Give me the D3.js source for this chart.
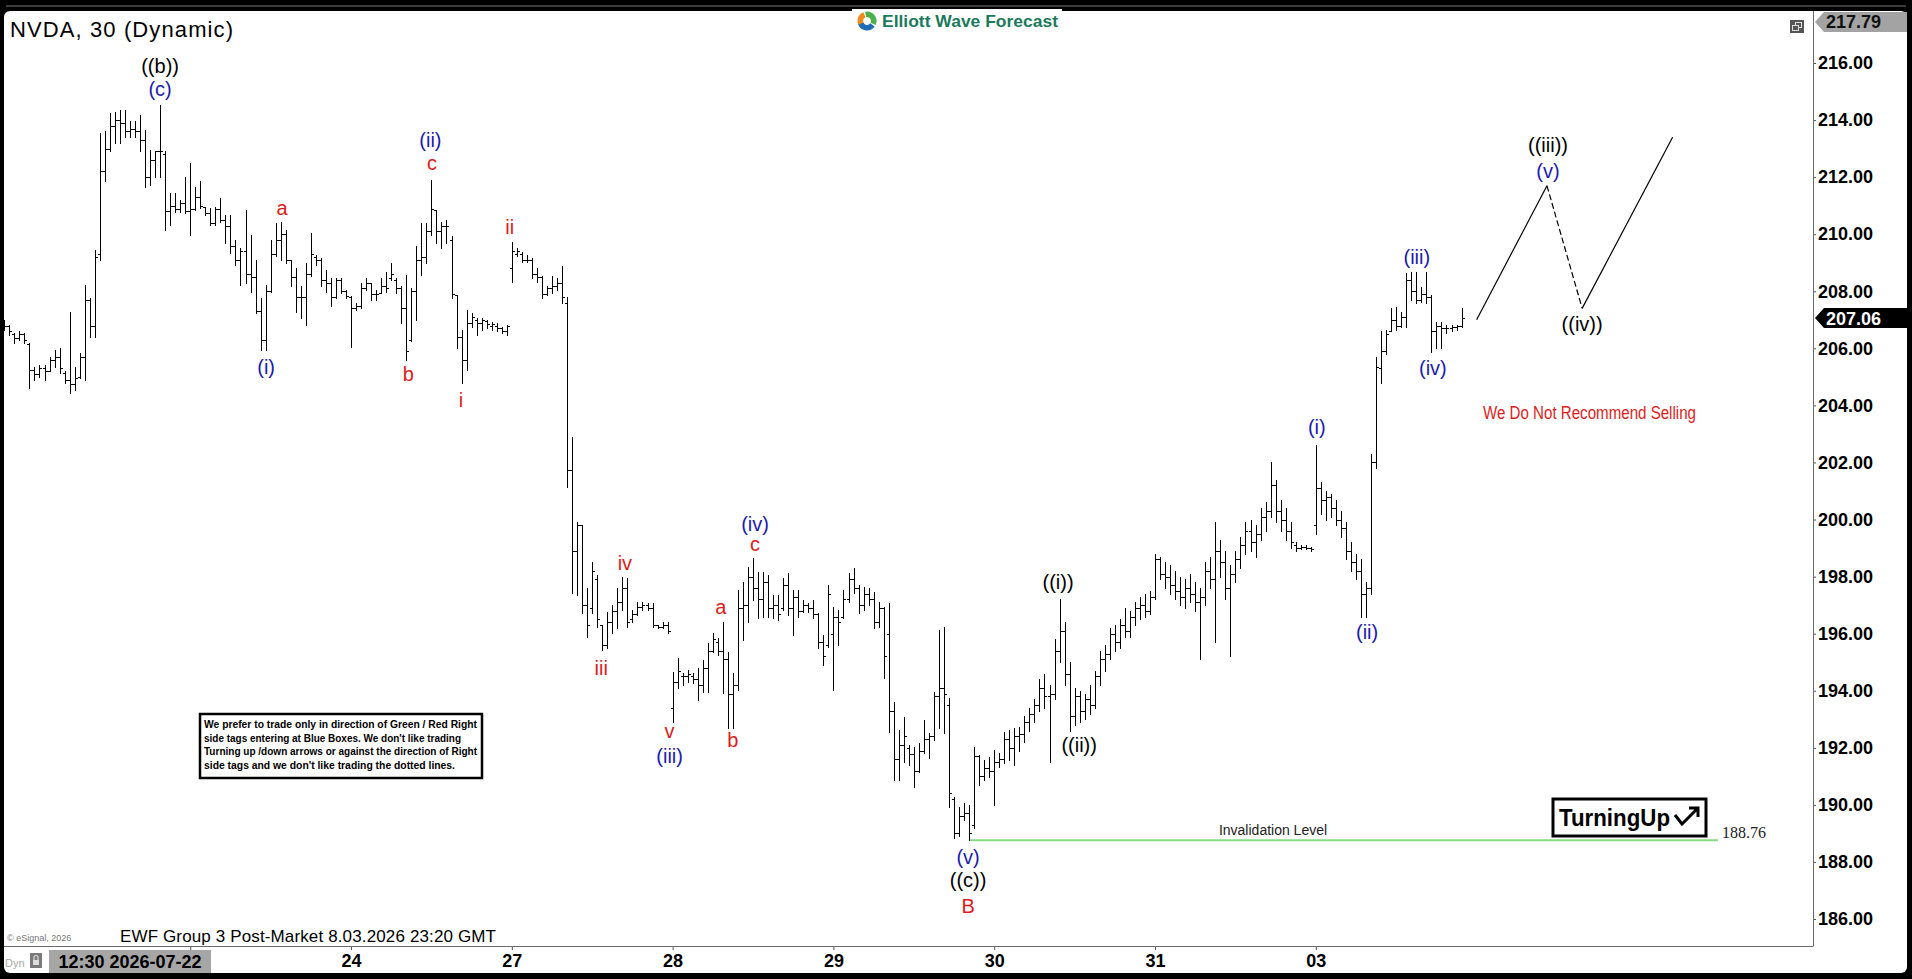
<!DOCTYPE html>
<html><head><meta charset="utf-8">
<script src="https://cdn.jsdelivr.net/npm/d3@7"></script>
<style>body{margin:0;background:#000;overflow:hidden}svg{display:block}</style>
</head><body>
<svg id="c" width="1912" height="979"></svg>
<script>
// ---- OHLC bars [open, high, low, close], one array per session ----
const bars22 = [
[206.95,207.00,206.65,206.80],[206.80,206.82,206.47,206.60],[206.50,206.53,206.18,206.35],[206.35,206.59,206.30,206.50],
[206.50,206.53,206.18,206.30],[206.15,206.18,204.60,205.25],[205.25,205.36,204.90,205.10],[205.10,205.42,205.01,205.30],
[205.30,205.42,204.90,205.20],[205.20,205.71,205.19,205.60],[205.60,205.95,205.36,205.70],[205.70,206.01,205.13,205.30],
[205.15,205.19,204.78,204.90],[204.90,207.29,204.43,204.75],[204.75,205.36,204.55,204.95],[205.00,205.83,204.95,205.70],
[205.70,208.23,204.90,207.70],[207.70,207.76,206.41,206.80],[206.80,209.45,206.41,209.20],[209.30,213.54,209.10,212.20],
[212.20,213.60,211.85,213.00],[213.00,214.24,212.90,213.80],[213.80,214.30,213.19,214.00],[214.00,214.36,213.19,213.90],
[213.90,214.36,213.42,213.60],[213.60,213.95,213.42,213.70],[213.70,213.95,213.42,213.60],[213.60,214.18,212.90,213.30],
[213.30,213.66,211.67,212.00],[212.00,212.96,211.73,212.60],[212.60,212.90,212.02,212.90],[212.90,214.53,212.02,212.90],
[212.80,212.90,210.15,210.80],[210.80,211.44,210.33,211.00],[211.00,211.44,210.79,210.90],[210.90,211.20,210.79,211.10],
[211.10,212.02,210.74,210.80]];
const bars23 = [
[210.80,212.49,209.98,210.90],[210.90,211.67,210.85,211.30],[211.30,211.85,210.91,211.00],[210.95,210.97,210.68,210.75],
[210.75,210.91,210.33,210.40],[210.40,210.97,210.33,210.90],[210.90,211.26,210.44,210.50],[210.50,210.68,209.69,210.30],
[210.30,210.68,209.33,209.60],[209.60,209.80,208.93,209.10],[209.10,209.51,208.23,209.40],[209.40,210.85,208.28,208.60],
[208.60,209.98,207.99,208.50],[208.50,209.10,207.23,207.30],[207.30,207.76,205.95,206.30],[206.30,208.23,205.95,208.00],
[208.00,209.80,207.99,209.30],[209.30,210.39,209.22,209.80],[209.80,210.44,209.10,210.00],[210.00,210.15,208.98,209.10],
[209.10,209.10,208.17,208.50],[208.50,208.81,207.29,207.80],[207.80,208.17,207.06,207.80],[207.80,208.98,206.82,208.60],
[208.60,210.04,208.52,209.30],[209.20,209.28,208.93,209.10],[209.10,209.16,208.17,208.40],[208.40,208.75,207.99,208.30],
[208.30,208.46,207.47,207.80],[207.80,208.46,207.76,208.40],[208.40,208.46,207.93,208.00],[208.00,208.05,207.76,207.85]];
const bars24 = [
[207.80,207.82,206.06,207.40],[207.40,207.58,207.35,207.50],[207.50,208.28,207.41,208.10],[208.10,208.46,208.05,208.30],
[208.28,208.28,207.70,207.90],[207.90,208.05,207.70,207.90],[207.95,208.46,207.93,208.20],[208.20,208.69,207.99,208.10],
[208.45,208.98,208.40,208.60],[208.40,208.46,207.93,208.10],[208.10,208.17,206.88,207.40],[207.40,208.58,205.60,205.90],
[206.30,208.11,206.24,208.00],[208.00,209.57,207.00,209.10],[209.10,210.39,208.58,209.20],[209.20,210.39,208.98,210.10],
[210.10,211.91,209.98,210.90],[210.85,210.85,209.69,210.10],[210.10,210.44,209.51,210.30],[210.30,210.50,209.69,210.30],
[209.80,209.92,207.76,207.90],[207.87,207.87,206.01,206.40],[206.40,206.65,204.78,205.60],[205.60,207.35,205.25,206.90],
[206.90,207.23,206.76,207.10],[207.00,207.06,206.47,206.90],[206.90,207.06,206.65,207.00],[206.95,207.00,206.71,206.85],
[206.80,206.94,206.65,206.85],[206.80,206.88,206.59,206.70],[206.70,206.76,206.53,206.60],[206.60,206.82,206.47,206.80]];
const bars27 = [
[208.80,209.74,208.34,209.40],[209.30,209.51,209.22,209.40],[209.30,209.39,209.04,209.10],[209.10,209.28,209.04,209.10],
[209.10,209.16,208.46,208.60],[208.60,208.81,208.34,208.50],[208.50,208.52,207.76,207.90],[207.90,208.17,207.87,208.10],
[208.10,208.52,207.93,208.20],[208.20,208.46,208.05,208.30],[208.30,208.90,207.60,207.80],[207.60,207.80,201.15,201.74],
[201.74,202.91,197.42,198.90],[198.90,199.93,197.36,199.80],[199.80,199.81,196.71,197.00],[197.00,197.59,195.89,196.30],
[196.90,198.52,196.71,198.20],[197.90,198.06,196.25,196.50],[196.30,196.30,195.43,195.60],[195.60,196.77,195.49,196.40],
[196.40,197.00,196.01,196.80],[196.80,197.59,196.19,197.10],[197.10,198.00,196.83,197.60],[197.60,197.94,196.25,196.40],
[196.50,196.83,196.42,196.70],[196.70,197.12,196.66,196.95],[196.95,197.12,196.83,197.00],[197.00,197.06,196.83,196.90],
[196.90,197.06,196.25,196.30],[196.30,196.30,196.19,196.25],[196.25,196.42,196.19,196.30],[196.30,196.42,196.01,196.10]];
const bars28 = [
[193.40,194.67,192.92,194.30],[194.30,195.14,194.08,194.70],[194.50,194.61,194.20,194.50],[194.50,194.73,194.32,194.60],
[194.50,194.61,194.26,194.40],[194.40,194.79,193.67,194.20],[194.20,195.08,193.97,194.80],[194.80,195.66,193.97,195.40],
[195.40,196.01,195.35,195.80],[195.70,195.85,195.25,195.40],[195.40,196.42,193.91,195.10],[195.10,195.37,192.68,193.90],
[193.90,194.61,192.68,194.20],[194.20,197.53,194.03,196.90],[196.90,197.82,195.78,197.00],[197.00,198.35,196.42,198.00],
[198.00,198.64,197.18,197.60],[197.60,198.17,196.54,197.20],[197.20,198.17,196.60,197.80],[197.80,198.06,196.60,196.90],
[196.90,197.36,196.54,197.00],[197.00,197.36,196.48,196.70],[196.90,197.94,196.83,197.70],[197.70,198.12,196.66,196.90],
[196.90,197.53,195.95,197.30],[197.30,197.53,196.60,196.80],[196.80,197.18,196.77,197.00],[197.00,197.06,196.77,196.90],
[196.90,197.18,196.54,196.70],[196.70,196.71,195.49,195.70],[195.70,195.95,194.90,195.20],[195.60,197.71,195.55,197.40]];
const bars29 = [
[196.00,196.95,194.03,196.60],[196.60,196.83,195.60,196.40],[196.60,197.53,196.54,197.20],[197.20,198.12,197.12,197.90],
[197.90,198.29,197.42,197.60],[197.60,197.71,196.71,197.00],[197.00,197.65,196.83,197.40],[197.40,197.59,197.00,197.20],
[197.20,197.47,196.19,196.40],[196.40,197.12,196.25,196.90],[196.90,196.95,194.43,195.20],[196.00,197.06,192.56,193.30],
[193.30,193.62,190.87,191.60],[191.60,192.62,190.87,192.10],[192.10,193.09,191.51,192.40],[192.00,192.10,191.40,191.80],
[191.80,192.04,190.64,191.20],[191.20,192.16,191.15,191.90],[191.90,192.97,191.81,192.30],[192.30,192.51,191.63,192.40],
[192.40,193.97,192.27,193.80],[193.80,196.13,192.68,194.10],[194.10,196.25,192.51,193.90],[193.50,193.73,189.94,190.40],
[190.20,190.29,188.83,189.00],[189.00,189.94,188.90,189.60],[189.60,190.05,189.47,189.70],[189.70,189.99,188.76,189.00],
[189.30,192.04,189.18,191.70],[191.70,191.75,190.70,191.00],[191.00,191.57,190.87,191.30],[191.30,191.69,190.99,191.20]];
const bars30 = [
[191.20,191.92,189.99,191.50],[191.50,191.81,191.34,191.60],[191.60,192.56,191.46,192.30],[192.30,192.62,191.57,192.00],
[192.00,192.68,191.40,192.40],[192.40,192.74,191.90,192.50],[192.50,193.10,192.20,192.90],[192.90,193.40,192.60,193.20],
[193.20,193.70,192.90,193.50],[193.50,194.40,193.30,194.10],[194.10,194.60,193.40,193.80],[193.80,194.20,191.50,193.90],
[193.90,195.80,193.70,195.40],[195.40,197.20,195.00,196.10],[196.10,196.40,194.20,194.60],[194.60,195.00,192.60,193.10],
[193.10,194.10,192.80,193.80],[193.80,194.00,192.90,193.30],[193.30,193.90,193.00,193.70],[193.70,194.20,193.20,193.50],
[193.50,194.70,193.40,194.50],[194.50,195.40,194.20,195.10],[195.10,195.60,194.70,195.30],[195.30,196.20,195.10,196.00],
[196.00,196.30,195.40,195.70],[195.70,196.50,195.50,196.30],[196.30,196.90,195.90,196.10],[196.10,196.80,195.90,196.60],
[196.60,197.10,196.30,196.90],[196.90,197.30,196.50,197.00],[197.00,197.40,196.60,196.80],[196.80,197.50,196.70,197.30]];
const bars31 = [
[197.30,198.80,197.20,198.60],[198.60,198.70,197.90,198.10],[198.10,198.50,197.60,198.00],[198.00,198.40,197.40,197.70],
[197.70,198.20,197.20,197.50],[197.50,198.00,197.00,197.30],[197.30,197.90,196.90,197.60],[197.60,198.10,197.10,197.40],
[197.40,197.80,196.80,197.10],[197.10,197.60,195.10,197.30],[197.30,198.50,197.00,198.20],[198.20,198.70,197.60,197.90],
[197.90,199.90,195.70,198.90],[198.90,199.30,198.00,198.50],[198.50,198.90,197.20,197.60],[197.60,198.40,195.20,198.10],
[198.10,198.90,197.80,198.60],[198.60,199.40,198.30,199.10],[199.10,199.90,198.80,199.60],[199.60,200.00,198.90,199.20],
[199.20,199.80,198.70,199.50],[199.50,200.40,199.30,200.10],[200.10,200.60,199.60,200.30],[200.30,202.00,200.10,201.20],
[201.20,201.40,199.90,200.30],[200.30,200.70,199.60,200.00],[200.00,200.40,199.30,199.60],[199.60,199.90,199.00,199.20],
[199.10,199.20,198.90,199.00],[199.00,199.10,198.95,199.05],[199.05,199.10,198.95,199.00],[199.00,199.05,198.90,198.95]];
const bars03 = [
[199.80,202.60,199.50,201.10],[201.10,201.30,200.20,200.70],[200.70,201.00,200.00,200.80],[200.80,200.90,200.10,200.40],
[200.40,200.70,199.80,200.00],[200.00,200.30,199.40,199.70],[199.70,199.90,198.60,198.90],[198.90,199.20,198.20,198.50],
[198.50,198.80,197.90,198.20],[198.20,198.60,196.60,197.40],[197.40,197.80,196.60,197.60],[197.60,202.30,197.40,202.00],
[202.00,205.71,201.80,205.36],[205.30,206.59,204.77,205.90],[205.90,206.64,205.80,206.50],[206.60,207.40,206.59,207.00],
[207.00,207.46,206.64,206.80],[206.80,207.29,206.76,207.10],[207.10,208.63,206.76,208.40],[208.40,208.69,207.70,208.00],
[208.00,208.69,207.58,207.70],[207.70,208.16,207.64,207.90],[207.90,208.69,207.58,207.80],[207.80,207.87,205.88,206.60],
[206.60,206.94,206.00,206.80],[206.80,206.94,206.00,206.70],[206.70,206.82,206.53,206.70],[206.70,206.82,206.59,206.75],
[206.75,206.82,206.64,206.80],[206.80,207.40,206.76,207.06]];

// ---- axis / tick data ----
const priceTicks = [186,188,190,192,194,196,198,200,202,204,206,208,210,212,214,216];
const dayLabels = ["23","24","27","28","29","30","31","03"];
const dayStartBar = [37,69,101,133,165,197,229,261];
const lastPrice = 207.06, topPrice = 217.79, invalidation = 188.76;

// ---- Elliott wave labels: text, colour, bar index, price ----
const waveText  = ["((b))","(c)","(i)","a","(ii)","c","b","i","ii","iii","iv","v","(iii)","a","b","(iv)","c","(v)","((c))","B","((i))","((ii))","(i)","(ii)","(iii)","(iv)","((iii))","(v)","((iv))"];
const waveColor = ["k","u","u","r","u","r","r","r","r","r","r","r","u","r","r","u","r","u","k","r","k","k","u","u","u","u","k","u","k"];
const waveBar   = [31,31,52.1,55.3,84.8,85.1,80.4,90.9,100.6,118.8,123.5,132.4,132.4,142.6,145,149.4,149.4,191.8,191.8,191.8,209.7,213.9,261.2,271.2,281.1,284.3,307.2,307.2,314];
const wavePrice = [215.90,215.10,205.35,210.92,213.30,212.50,205.11,204.19,210.26,194.80,198.48,192.59,191.71,196.94,192.27,199.84,199.14,188.17,187.37,186.46,197.81,192.10,203.25,196.06,209.20,205.31,213.13,212.22,206.86];

// ---- projected path ----
const projBar = [293, 307, 314, 332];
const projPrice = [207.0, 211.7, 207.4, 213.4];

const noteLines = ["We prefer to trade only in direction of Green / Red Right",
 "side tags entering at Blue Boxes. We don't like trading",
 "Turning up /down arrows or against the direction of Right",
 "side tags and we don't like trading the dotted lines."];

// ================= drawing =================
const FONT = "'Liberation Sans', Arial, sans-serif";
const svg = d3.select("#c");
const x = d3.scaleLinear().domain([0, 300]).range([4.3, 4.3 + 300 * 5.025]);
const y = d3.scaleLinear().domain([186, 216]).range([919, 63]);
const colors = {k:"#000000", u:"#1c1cb0", r:"#e01b1b"};

// frame
svg.append("rect").attr("width",1912).attr("height",979).attr("fill","#000");
svg.append("rect").attr("x",6).attr("y",5).attr("width",1900).attr("height",2).attr("fill","#3c3c3c");
svg.append("rect").attr("x",4).attr("y",11).attr("width",1903).attr("height",962).attr("rx",6).attr("fill","#fff");

const bars = [].concat(bars22, bars23, bars24, bars27, bars28, bars29, bars30, bars31, bars03);

// invalidation line
svg.append("line").attr("x1", Math.round(x(192))).attr("x2", 1718)
  .attr("y1", y(invalidation)).attr("y2", y(invalidation))
  .attr("stroke", "#86dc86").attr("stroke-width", 2);
svg.append("text").attr("x", 1722).attr("y", y(invalidation) - 2).attr("font-family","'Liberation Serif', 'Times New Roman', serif")
  .attr("font-size", 16).attr("fill","#222").text(invalidation.toFixed(2));
svg.append("text").attr("x", 1273).attr("y", 835).attr("text-anchor","middle").attr("font-family",FONT)
  .attr("font-size", 14).attr("fill","#222").text("Invalidation Level");

// bars
svg.append("g").selectAll("path").data(bars).join("path")
  .attr("d", (d, i) => {
    const cx = Math.round(x(i)) + 0.5;
    const yo = Math.round(y(d[0])) + 0.5, yc = Math.round(y(d[3])) + 0.5;
    return `M${cx},${Math.round(y(d[1]))}V${Math.round(y(d[2]))+1}M${cx-2.5},${yo}H${cx}M${cx},${yc}H${cx+2.5}`;
  })
  .attr("stroke","#000").attr("stroke-width",1).attr("fill","none").attr("shape-rendering","crispEdges");

// projection
const proj = projBar.map((b, k) => [x(b), y(projPrice[k])]);
[0,1,2].forEach(k => {
  svg.append("line").attr("x1",proj[k][0]).attr("y1",proj[k][1]).attr("x2",proj[k+1][0]).attr("y2",proj[k+1][1])
    .attr("stroke","#000").attr("stroke-width",1.2).attr("stroke-dasharray", k===1 ? "6,3" : null);
});

// wave labels
svg.append("g").selectAll("text").data(waveText).join("text")
  .attr("x",(d,k)=>x(waveBar[k])).attr("y",(d,k)=>y(wavePrice[k]))
  .attr("dy","0.35em").attr("text-anchor","middle").attr("font-family",FONT).attr("font-size",20)
  .attr("fill",(d,k)=>colors[waveColor[k]]).text(d=>d);

// right axis
const yAxis = d3.axisRight(y).tickValues(priceTicks).tickFormat(d3.format(".2f")).tickSize(3).tickPadding(2);
const gy = svg.append("g").attr("transform","translate(1813,0)").call(yAxis);
gy.select(".domain").remove();
gy.selectAll("line").attr("stroke","#555");
gy.selectAll("text").attr("font-family",FONT).attr("font-size",18).attr("font-weight","bold").attr("fill","#000");
svg.append("line").attr("x1",1813.5).attr("x2",1813.5).attr("y1",11).attr("y2",946).attr("stroke","#6a6a6a");

// bottom axis (first day label sits under the date box, so only its tick shows)
const xAxis = d3.axisBottom(x).tickValues(dayStartBar).tickFormat((d,k)=>dayLabels[k]).tickSize(4).tickPadding(4);
const gx = svg.append("g").attr("transform","translate(0,946)").call(xAxis);
gx.select(".domain").remove();
gx.selectAll("line").attr("stroke","#555");
gx.selectAll("text").attr("font-family",FONT).attr("font-size",18).attr("font-weight","bold").attr("fill","#000");
gx.selectAll(".tick").filter((d,k)=>k===0).select("text").remove();
svg.append("line").attr("x1",4).attr("x2",1813.5).attr("y1",946.5).attr("y2",946.5).attr("stroke","#6a6a6a");

// left date box
svg.append("rect").attr("x",49).attr("y",950).attr("width",162).attr("height",23).attr("fill","#a6a6a6");
svg.append("text").attr("x",130).attr("y",968).attr("text-anchor","middle").attr("font-family",FONT)
  .attr("font-size",18).attr("font-weight","bold").attr("fill","#000").text("12:30 2026-07-22");
svg.append("text").attr("x",5).attr("y",967).attr("font-family",FONT).attr("font-size",11).attr("fill","#aaa").text("Dyn");
svg.append("rect").attr("x",30).attr("y",953).attr("width",12).attr("height",15).attr("fill","#7a7a7a");
svg.append("rect").attr("x",33).attr("y",960).attr("width",6).attr("height",5).attr("fill","#ddd");
svg.append("path").attr("d","M34,960V957.5a2,2 0 0 1 4,0V960").attr("fill","none").attr("stroke","#ddd").attr("stroke-width",1.2);

// price flags
function flag(price, yc, bg, fg) {
  svg.append("path").attr("d",`M1815,${yc}L1824,${yc-10}H1907V${yc+10}H1824Z`).attr("fill",bg);
  svg.append("text").attr("x",1826).attr("y",yc).attr("dy","0.36em").attr("font-family",FONT).attr("font-size",18)
    .attr("font-weight","bold").attr("fill",fg).text(price.toFixed(2));
}
flag(topPrice, 22, "#a3a3a3", "#111");
flag(lastPrice, y(lastPrice), "#000", "#fff");

// small window icon
svg.append("rect").attr("x",1790).attr("y",20).attr("width",14).attr("height",13).attr("fill","#555");
svg.append("rect").attr("x",1795.5).attr("y",22.5).attr("width",6).attr("height",5).attr("fill","none").attr("stroke","#ddd");
svg.append("rect").attr("x",1792.5).attr("y",25.5).attr("width",6).attr("height",5).attr("fill","#555").attr("stroke","#ddd");

// title & footer
svg.append("text").attr("x",10).attr("y",37).attr("font-family",FONT).attr("font-size",22)
  .attr("textLength",223).attr("lengthAdjust","spacing").attr("fill","#000").text("NVDA, 30 (Dynamic)");
svg.append("text").attr("x",120).attr("y",942).attr("font-family",FONT).attr("font-size",17).attr("fill","#000")
  .attr("textLength",376).attr("lengthAdjust","spacing").text("EWF Group 3 Post-Market 8.03.2026 23:20 GMT");
svg.append("text").attr("x",7).attr("y",941).attr("font-family",FONT).attr("font-size",9).attr("fill","#777").text("© eSignal, 2026");

// logo
svg.append("rect").attr("x",852).attr("y",9).attr("width",210).attr("height",24).attr("fill","#fff");
const arc = d3.arc().innerRadius(4).outerRadius(9.5);
const logoG = svg.append("g").attr("transform","translate(867,21)");
[[ -2.6,-0.4,"#f08a1c"],[-0.2,2.0,"#4daf4a"],[2.2,4.3,"#1f6db8"]].forEach(([a0,a1,c])=>{
  logoG.append("path").attr("d",arc({startAngle:a0,endAngle:a1})).attr("fill",c);
});
svg.append("text").attr("x",882).attr("y",27).attr("font-family",FONT).attr("font-size",17).attr("font-weight","bold")
  .attr("fill","#1b7a5c").attr("textLength",176).attr("lengthAdjust","spacingAndGlyphs").text("Elliott Wave Forecast");

// note box
svg.append("rect").attr("x",200).attr("y",714).attr("width",282).attr("height",64).attr("fill","#fff")
  .attr("stroke","#000").attr("stroke-width",2.5);
const noteLen = [273, 257, 273, 251];
noteLines.forEach((t,k)=>{
  svg.append("text").attr("x",204).attr("y",728 + k*13.7).attr("font-family",FONT).attr("font-size",10.5)
    .attr("font-weight","bold").attr("fill","#000").attr("textLength",noteLen[k]).attr("lengthAdjust","spacingAndGlyphs").text(t);
});

// Turning Up box
svg.append("rect").attr("x",1553).attr("y",799).attr("width",153).attr("height",37).attr("fill","#fff")
  .attr("stroke","#000").attr("stroke-width",3);
svg.append("text").attr("x",1559).attr("y",826).attr("font-family",FONT).attr("font-size",23).attr("font-weight","bold")
  .attr("fill","#000").attr("textLength",111).attr("lengthAdjust","spacingAndGlyphs").text("TurningUp");
svg.append("path").attr("d","M1675,815L1682,824L1698,808M1689,808H1698V817").attr("fill","none")
  .attr("stroke","#000").attr("stroke-width",3);

// recommendation
svg.append("text").attr("x",1483).attr("y",419).attr("font-family",FONT).attr("font-size",18).attr("fill","#e01b1b")
  .attr("textLength",213).attr("lengthAdjust","spacingAndGlyphs").text("We Do Not Recommend Selling");
</script>
</body></html>
